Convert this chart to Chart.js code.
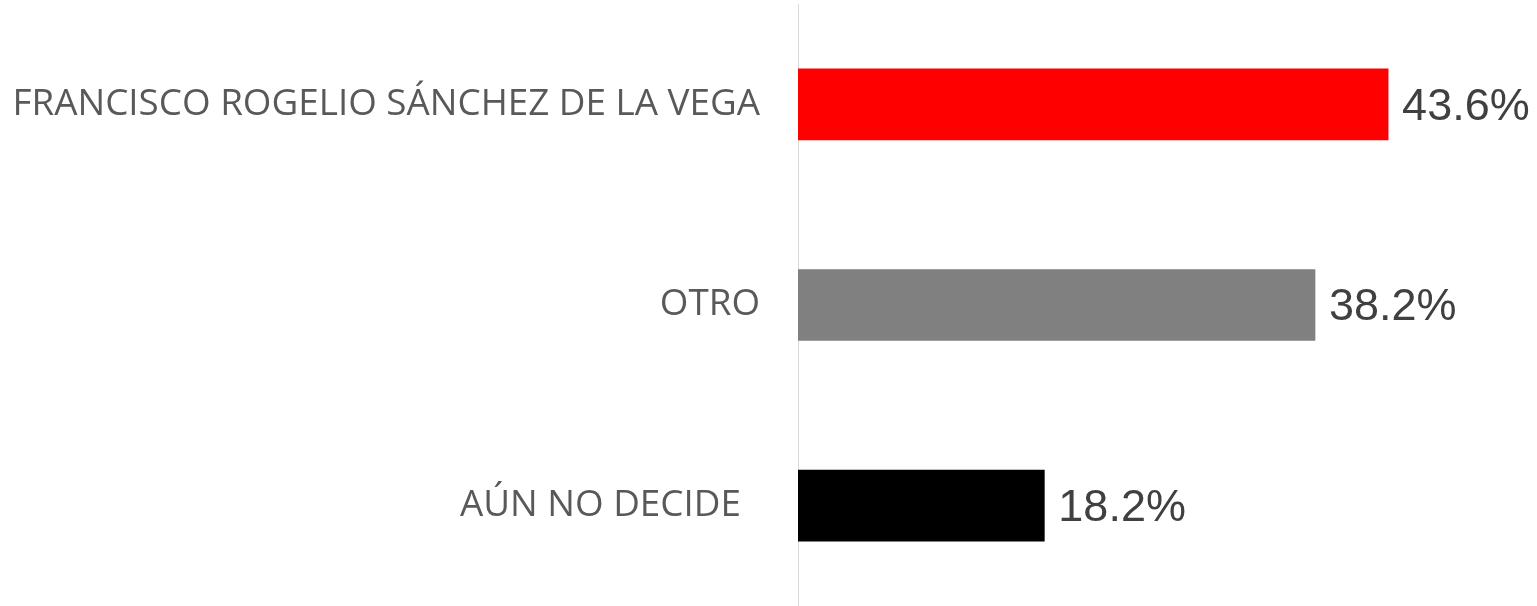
<!DOCTYPE html>
<html>
<head>
<meta charset="utf-8">
<script src="https://cdn.jsdelivr.net/npm/chart.js@4.4.1/dist/chart.umd.min.js"></script>
<style>
  html, body { margin: 0; padding: 0; background: #fff; }
  #wrap { width: 1537px; height: 606px; }
</style>
</head>
<body>
<div id="wrap"><canvas id="myChart"></canvas></div>
<script>
// categories + values
const categorias = ['FRANCISCO ROGELIO SÁNCHEZ DE LA VEGA', 'OTRO', 'AÚN NO DECIDE  '];
const porcentajes = [43.6, 38.2, 18.2];
const colores = ['#ff0000', '#808080', '#000000'];

// draws "43.6%" etc at the end of each bar
const valueLabels = {
  id: 'valueLabels',
  afterDatasetsDraw(chart) {
    const ctx = chart.ctx;
    const meta = chart.getDatasetMeta(0);
    ctx.save();
    ctx.font = '45px "Liberation Sans", Arial, sans-serif';
    ctx.fillStyle = '#404040';
    ctx.textAlign = 'left';
    ctx.textBaseline = 'middle';
    meta.data.forEach((bar, i) => {
      ctx.fillText(porcentajes[i].toFixed(1) + '%', bar.x + 14, bar.y + 3);
    });
    ctx.restore();
  }
};

const ctx = document.getElementById('myChart').getContext('2d');
const myChart = new Chart(ctx, {
  type: 'bar',
  data: {
    labels: categorias,
    datasets: [{
      data: porcentajes,
      backgroundColor: colores,
      borderWidth: 0,
      barThickness: 71
    }]
  },
  options: {
    indexAxis: 'y',
    responsive: true,
    maintainAspectRatio: false,
    animation: false,
    layout: { padding: { top: 4, bottom: -3, left: 0, right: 0 } },
    plugins: {
      legend: { display: false },
      tooltip: { enabled: false }
    },
    scales: {
      x: {
        min: 0,
        max: 54.6,
        display: false
      },
      y: {
        grid: { display: false, drawTicks: false },
        border: { display: true, color: '#d9d9d9', width: 1 },
        ticks: {
          color: '#595959',
          padding: 38,
          font: { family: '"Open Sans", sans-serif', size: 36.8 }
        },
        afterFit(axis) {
          axis.width = 798;
          // tick padding would otherwise shrink the plot vertically
          axis.paddingTop = 0;
          axis.paddingBottom = 0;
        }
      }
    }
  },
  plugins: [valueLabels]
});
</script>
</body>
</html>
